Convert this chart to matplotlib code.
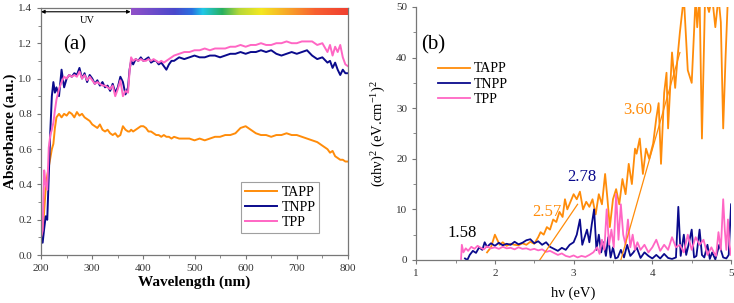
import matplotlib
import matplotlib.pyplot as plt
from matplotlib.colors import LinearSegmentedColormap
from matplotlib.ticker import MultipleLocator
import numpy as np

matplotlib.use("Agg")

plt.rcParams["font.family"] = ["Liberation Serif", "DejaVu Serif"]
plt.rcParams["mathtext.fontset"] = "custom"
plt.rcParams["mathtext.rm"] = "Liberation Serif"
plt.rcParams["mathtext.it"] = "Liberation Serif:italic"

# colours
C_TAPP = "#ff8c0a"
C_TNPP = "#0a0a8c"
C_TPP = "#ff66c4"

# ---- (a) absorbance spectra ----
wavelength = [200, 203, 206, 209, 212, 215, 218, 221, 224, 227, 230, 235, 240, 245, 250,
              255, 260, 265, 270, 275, 280, 285, 290, 295, 300, 305, 310, 315, 320, 325,
              330, 335, 340, 345, 350, 355, 360, 365, 370, 373, 376, 380, 385, 390, 395,
              400, 405, 410, 415, 420, 425, 430, 435, 440, 445, 450, 455, 460, 470, 480,
              490, 500, 510, 520, 530, 540, 550, 560, 570, 580, 590, 600, 610, 620, 630,
              640, 650, 660, 670, 680, 690, 700, 710, 720, 730, 740, 750, 760, 765, 770,
              775, 780, 785, 790, 795, 800]
abs_tapp = [0.08, 0.12, 0.25, 0.38, 0.45, 0.50, 0.55, 0.60, 0.63, 0.72, 0.78, 0.80, 0.78, 0.80, 0.79,
            0.81, 0.80, 0.78, 0.81, 0.79, 0.80, 0.78, 0.77, 0.76, 0.74, 0.73, 0.72, 0.74, 0.71, 0.70,
            0.71, 0.69, 0.68, 0.69, 0.67, 0.68, 0.73, 0.71, 0.70, 0.70, 0.71, 0.70, 0.71, 0.72, 0.73,
            0.73, 0.72, 0.70, 0.70, 0.69, 0.68, 0.68, 0.67, 0.68, 0.67, 0.67, 0.66, 0.67, 0.66, 0.66,
            0.66, 0.65, 0.66, 0.65, 0.66, 0.67, 0.67, 0.68, 0.68, 0.69, 0.72, 0.73, 0.71, 0.69, 0.68,
            0.68, 0.67, 0.68, 0.68, 0.69, 0.68, 0.68, 0.67, 0.66, 0.65, 0.64, 0.62, 0.60, 0.58, 0.59,
            0.56, 0.55, 0.54, 0.54, 0.53, 0.53]
abs_tnpp = [0.12, 0.07, 0.15, 0.22, 0.20, 0.45, 0.70, 0.90, 0.98, 0.92, 0.95, 0.90, 1.05, 0.95, 1.00,
            1.02, 1.01, 1.03, 1.02, 1.06, 1.00, 1.03, 0.98, 1.02, 1.00, 0.97, 0.99, 0.96, 0.98, 0.95,
            0.96, 0.93, 0.97, 0.92, 0.95, 1.01, 0.98, 0.91, 0.95, 1.05, 1.10, 1.08, 1.11, 1.10, 1.12,
            1.10, 1.11, 1.12, 1.09, 1.10, 1.10, 1.08, 1.09, 1.07, 1.05, 1.08, 1.10, 1.10, 1.12, 1.11,
            1.12, 1.13, 1.12, 1.12, 1.13, 1.13, 1.12, 1.13, 1.14, 1.14, 1.15, 1.14, 1.15, 1.15, 1.16,
            1.15, 1.16, 1.14, 1.13, 1.14, 1.15, 1.14, 1.15, 1.16, 1.13, 1.11, 1.12, 1.09, 1.10, 1.06,
            1.09, 1.05, 1.02, 1.05, 1.03, 1.03]
abs_tpp = [0.10, 0.14, 0.48, 0.40, 0.37, 0.61, 0.68, 0.71, 0.75, 0.82, 0.88, 0.94, 0.98, 1.01, 1.00,
           1.02, 1.01, 1.02, 1.01, 1.04, 1.00, 1.02, 0.99, 1.01, 0.99, 0.97, 0.98, 0.97, 0.96, 0.96,
           0.95, 0.94, 0.96, 0.90, 0.94, 0.99, 0.90, 0.93, 0.92, 1.04, 1.12, 1.10, 1.11, 1.10, 1.11,
           1.10, 1.10, 1.11, 1.10, 1.11, 1.10, 1.09, 1.10, 1.09, 1.10, 1.11, 1.12, 1.13, 1.14, 1.15,
           1.15, 1.16, 1.16, 1.17, 1.16, 1.17, 1.17, 1.17, 1.18, 1.18, 1.19, 1.18, 1.19, 1.19, 1.20,
           1.19, 1.19, 1.20, 1.20, 1.21, 1.20, 1.20, 1.21, 1.21, 1.21, 1.19, 1.20, 1.15, 1.19, 1.13,
           1.18, 1.15, 1.19, 1.12, 1.08, 1.07]

# ---- (b) Tauc plot ----
e_tapp = [1.90, 1.95, 2.00, 2.03, 2.06, 2.10, 2.15, 2.20, 2.25, 2.30, 2.35, 2.40, 2.45, 2.50, 2.55,
          2.58, 2.62, 2.66, 2.70, 2.74, 2.78, 2.82, 2.86, 2.89, 2.92, 2.96, 3.00, 3.04, 3.08, 3.12,
          3.16, 3.20, 3.24, 3.28, 3.32, 3.36, 3.40, 3.43, 3.46, 3.50, 3.54, 3.58, 3.62, 3.66, 3.70,
          3.74, 3.78, 3.80, 3.84, 3.88, 3.92, 3.96, 4.01, 4.05, 4.08, 4.11, 4.15, 4.18, 4.20, 4.23,
          4.25, 4.29, 4.32, 4.35, 4.40, 4.45, 4.50, 4.55, 4.57, 4.60, 4.63, 4.67, 4.72, 4.76, 4.80,
          4.84, 4.87, 4.90, 4.93, 4.96, 5.00]
v_tapp = [1.5, 2.5, 5.0, 4.0, 3.0, 3.5, 2.8, 3.2, 3.0, 2.9, 3.3, 3.0, 3.6, 3.2, 4.5,
          5.5, 5.0, 6.5, 6.0, 8.0, 7.5, 9.5, 8.5, 12.0, 10.0, 11.5, 13.0, 12.0, 13.5, 10.0,
          11.5, 10.5, 12.0, 9.0, 13.0, 11.0, 17.0, 12.0, 6.5, 12.0, 14.0, 11.0, 16.0, 13.0, 19.0,
          15.0, 22.0, 21.0, 24.0, 17.0, 22.0, 20.0, 23.0, 28.0, 31.0, 19.0, 33.0, 37.0, 26.0, 35.0,
          41.0, 34.0, 40.0, 45.0, 52.0, 37.5, 35.0, 52.0, 46.0, 52.0, 24.0, 52.0, 49.0, 52.0, 46.0,
          52.0, 47.0, 26.0, 40.0, 52.0, 55.0]

e_tnpp = [1.62, 1.65, 1.68, 1.72, 1.76, 1.80, 1.84, 1.87, 1.90, 1.95, 2.00, 2.05, 2.10, 2.15, 2.20,
          2.25, 2.30, 2.35, 2.40, 2.45, 2.50, 2.55, 2.60, 2.65, 2.70, 2.75, 2.80, 2.85, 2.90, 2.95,
          3.00, 3.04, 3.08, 3.11, 3.14, 3.17, 3.20, 3.23, 3.26, 3.29, 3.32, 3.35, 3.38, 3.41, 3.44,
          3.47, 3.50, 3.53, 3.56, 3.60, 3.64, 3.68, 3.72, 3.76, 3.80, 3.85, 3.90, 3.95, 4.00, 4.05,
          4.10, 4.15, 4.20, 4.25, 4.30, 4.33, 4.36, 4.40, 4.43, 4.46, 4.50, 4.53, 4.56, 4.60, 4.63,
          4.66, 4.70, 4.73, 4.76, 4.80, 4.85, 4.90, 4.94, 4.97, 5.00]
v_tnpp = [0.3, 0.0, 1.0, 1.8, 1.4, 2.5, 2.0, 3.5, 2.6, 3.3, 2.8, 3.4, 2.9, 3.2, 3.0,
          3.6, 3.1, 3.4, 3.9, 4.1, 3.3, 3.7, 3.0, 3.5, 2.6, 2.2, 1.8, 2.4, 2.0, 3.0,
          3.5, 5.0, 8.0, 3.0, 4.5, 6.0, 3.5, 7.0, 10.0, 2.0, 5.0, 1.5, 3.5, 0.8, 4.5,
          0.5, 2.5, 0.3, 0.5, 2.0, 0.5, 3.0, 0.8, 1.5, 2.5, 0.4, 1.5, 0.8, 0.3, 1.0,
          0.3, 1.2, 0.4, 0.2, 0.5, 10.5, 0.8, 5.0, 1.0, 3.0, 6.0, 0.5, 0.8, 6.0, 1.0,
          0.5, 3.0, 0.2, 1.5, 0.1, 3.0, 0.5, 0.3, 1.0, 11.0]

e_tpp = [1.57, 1.58, 1.60, 1.63, 1.66, 1.70, 1.74, 1.78, 1.82, 1.86, 1.90, 1.95, 2.00, 2.05, 2.10,
         2.15, 2.20, 2.25, 2.30, 2.35, 2.40, 2.45, 2.50, 2.55, 2.60, 2.65, 2.70, 2.75, 2.80, 2.85,
         2.90, 2.95, 3.00, 3.05, 3.10, 3.15, 3.20, 3.25, 3.30, 3.33, 3.36, 3.39, 3.42, 3.45, 3.48,
         3.51, 3.54, 3.57, 3.60, 3.63, 3.66, 3.69, 3.72, 3.75, 3.78, 3.81, 3.85, 3.90, 3.95, 4.00,
         4.05, 4.10, 4.15, 4.20, 4.25, 4.30, 4.35, 4.40, 4.45, 4.50, 4.55, 4.60, 4.65, 4.70, 4.75,
         4.78, 4.81, 4.84, 4.87, 4.90, 4.92, 4.94, 4.96, 4.98, 5.00]
v_tpp = [0.2, 3.0, 1.5, 2.3, 1.8, 2.6, 2.2, 2.8, 2.4, 2.1, 2.7, 2.3, 2.5, 2.2, 2.6,
         2.3, 2.4, 2.1, 2.5, 2.2, 2.3, 2.0, 2.2, 1.9, 2.1, 1.6, 1.8, 1.4, 1.0, 1.3,
         0.8, 0.6, 0.9, 0.5, 0.8, 0.6, 1.0, 1.5, 2.5, 1.2, 4.0, 2.0, 10.0, 3.0, 6.0,
         2.5, 13.0, 4.0, 11.0, 5.0, 3.0, 8.0, 2.5, 5.0, 2.0, 3.5, 2.0, 3.0, 1.5, 2.5,
         4.0, 1.8, 3.0, 2.0, 4.5, 2.5, 3.0, 1.5, 5.0, 2.0, 4.5, 3.0, 4.0, 1.0, 2.5,
         1.5, 0.8, 5.5, 2.0, 12.0, 6.0, 2.0, 8.0, 3.0, 1.0]

# linear extrapolations (x pairs, y pairs)
fit1_e = [2.57, 3.05]
fit1_v = [0.0, 11.0]
fit2_e = [3.60, 4.35]
fit2_v = [0.0, 41.0]

gap_labels = ["1.58", "2.57", "2.78", "3.60"]
gap_pos = [(1.59, 5.3), (2.66, 9.5), (3.11, 16.4), (3.81, 29.6)]
gap_colors = ["black", C_TAPP, C_TNPP, C_TAPP]

fig = plt.figure(figsize=(7.34, 3.03), dpi=100)
ax1 = fig.add_axes([0.056, 0.158, 0.418, 0.816])
ax2 = fig.add_axes([0.567, 0.142, 0.429, 0.835])

# panel (a)
ax1.plot(wavelength, abs_tapp, color=C_TAPP, lw=1.4, label="TAPP")
ax1.plot(wavelength, abs_tnpp, color=C_TNPP, lw=1.4, label="TNPP")
ax1.plot(wavelength, abs_tpp, color=C_TPP, lw=1.4, label="TPP")
ax1.set_xlim(200, 800)
ax1.set_ylim(0, 1.4)
ax1.xaxis.set_major_locator(MultipleLocator(100))
ax1.xaxis.set_minor_locator(MultipleLocator(50))
ax1.yaxis.set_major_locator(MultipleLocator(0.2))
ax1.yaxis.set_minor_locator(MultipleLocator(0.1))
ax1.yaxis.set_major_formatter(matplotlib.ticker.FormatStrFormatter("%.1f"))
ax1.set_xlabel("Wavelength (nm)", fontsize=11, fontweight="bold", labelpad=2)
ax1.set_ylabel("Absorbance (a.u.)", fontsize=11, fontweight="bold", labelpad=1)

# rainbow bar for the visible range + UV arrow
rainbow = LinearSegmentedColormap.from_list("vis", [
    (0.0, "#9150c8"), (0.2, "#4a48cc"), (0.28, "#2a70e0"), (0.33, "#20c8e8"),
    (0.42, "#28b060"), (0.5, "#b8d838"), (0.6, "#f4e820"), (0.72, "#f8a828"),
    (0.85, "#f86030"), (1.0, "#f04030")])
ax1.imshow(np.linspace(0, 1, 256).reshape(1, -1), cmap=rainbow, aspect="auto",
           extent=[376, 800, 1.358, 1.4], zorder=3)
ax1.annotate("", xy=(200, 1.378), xytext=(375, 1.378),
             arrowprops=dict(arrowstyle="<|-|>", color="black", lw=0.8,
                             mutation_scale=5, shrinkA=0, shrinkB=0))
ax1.text(290, 1.33, "UV", fontsize=7.5, ha="center", va="center")
ax1.text(266, 1.19, "(a)", fontsize=15, ha="center", va="center")
leg1 = ax1.legend(loc="lower right", bbox_to_anchor=(0.93, 0.06), fontsize=10,
                  frameon=True, fancybox=False, edgecolor="#888888",
                  handlelength=2.3, handletextpad=0.3, borderpad=0.3, labelspacing=0.15)
leg1.get_frame().set_linewidth(0.8)

# panel (b)
ax2.plot(e_tapp, v_tapp, color=C_TAPP, lw=1.3, label="TAPP")
ax2.plot(e_tnpp, v_tnpp, color=C_TNPP, lw=1.3, label="TNPP")
ax2.plot(e_tpp, v_tpp, color=C_TPP, lw=1.3, label="TPP")
ax2.plot(fit1_e, fit1_v, color=C_TAPP, lw=0.9)
ax2.plot(fit2_e, fit2_v, color=C_TAPP, lw=0.9)
for lab, (ex, vy), col in zip(gap_labels, gap_pos, gap_colors):
    ax2.text(ex, vy, lab, color=col, fontsize=12, ha="center", va="center")
ax2.text(1.22, 42.5, "(b)", fontsize=15, ha="center", va="center")
ax2.set_xlim(1, 5)
ax2.set_ylim(0, 50)
ax2.xaxis.set_major_locator(MultipleLocator(1))
ax2.xaxis.set_minor_locator(MultipleLocator(0.5))
ax2.yaxis.set_major_locator(MultipleLocator(10))
ax2.yaxis.set_minor_locator(MultipleLocator(5))
ax2.spines["top"].set_visible(False)
ax2.spines["right"].set_visible(False)
ax2.set_xlabel("h\u03bd (eV)", fontsize=10.5, labelpad=6)
ax2.set_ylabel("(\u03b1h\u03bd)$^2$ (eV.cm$^{-1}$)$^2$", fontsize=10.5, labelpad=6)
ax2.legend(loc="upper left", bbox_to_anchor=(0.03, 0.83), fontsize=10, frameon=False,
           handlelength=2.3, handletextpad=0.3, labelspacing=0.15)

for ax in (ax1, ax2):
    for sp in ax.spines.values():
        sp.set_color("#777777")
        sp.set_linewidth(0.9)
    ax.tick_params(which="both", direction="out", colors="#777777", labelcolor="#333333",
                   labelsize=8)
    ax.tick_params(which="major", length=3)
    ax.tick_params(which="minor", length=2)

fig.savefig("out.png", dpi=100)
